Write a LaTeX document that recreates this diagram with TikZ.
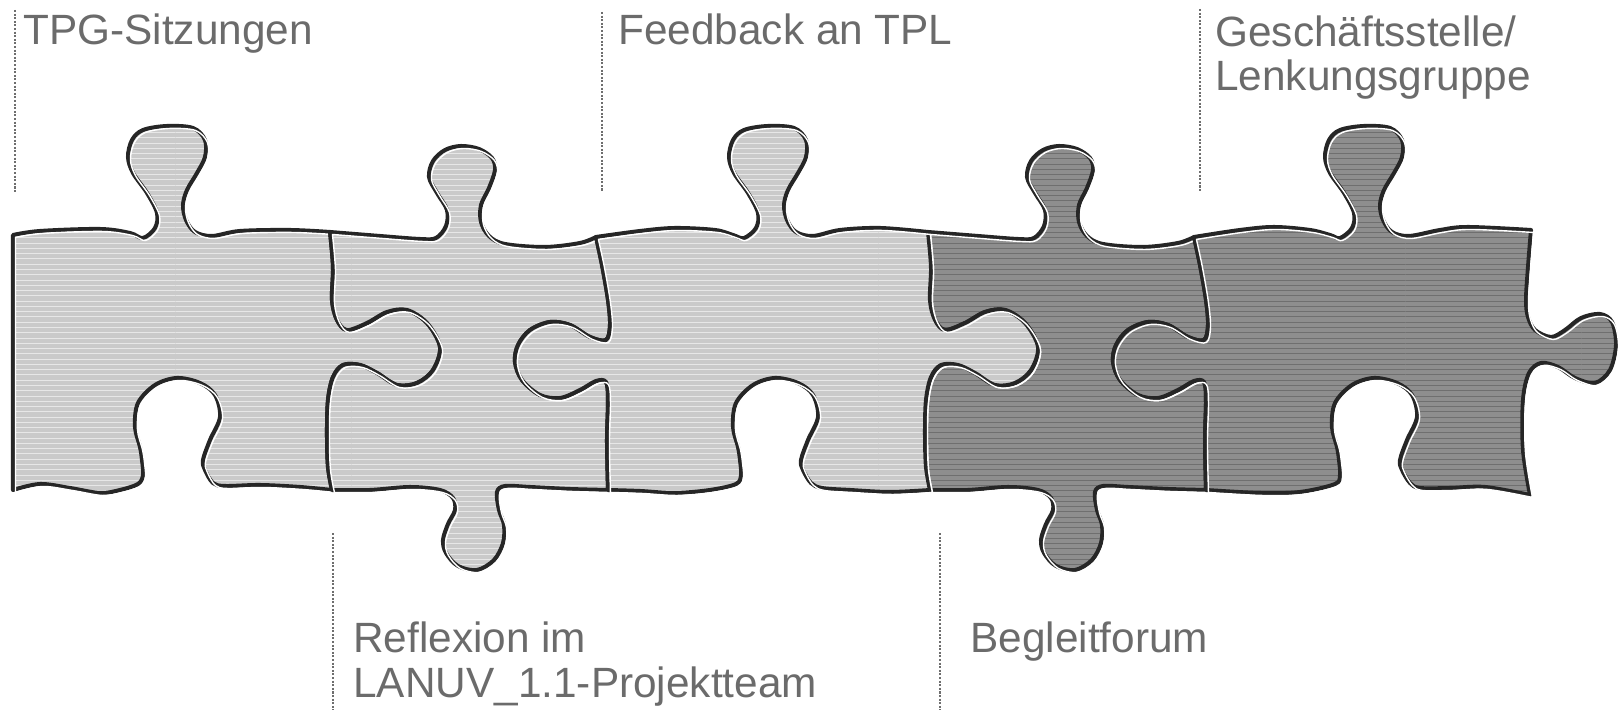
\documentclass[tikz,border=0pt]{standalone}
\usepackage{fontspec}
\setmainfont{Liberation Sans}
\usetikzlibrary{patterns}
\definecolor{label_gray}{HTML}{6B6B6B}
\definecolor{lead_gray}{HTML}{6E6E6E}
\definecolor{metal_light}{HTML}{CACACA}
\definecolor{metal_dark}{HTML}{8E8E8E}
\colorlet{labelgray}{label_gray}
\colorlet{leadgray}{lead_gray}
\colorlet{metallight}{metal_light}
\colorlet{metaldark}{metal_dark}
\tikzset{
  rim/.style={smooth,tension=.55},
  piece/.style 2 args={draw=black!85,line width=2.3pt,line join=round,
    preaction={fill=#1},
    preaction={pattern=horizontal lines,pattern color=#2},
    postaction={draw=white,line width=.8pt,transform canvas={shift={(1.4pt,-1.4pt)}}}},
  lightpiece/.style={piece={metallight}{white!55!metallight}},
  darkpiece/.style={piece={metaldark}{black!22!metaldark}},
  caption/.style={text=labelgray,font=\fontsize{24.1pt}{25.6pt}\selectfont,inner sep=0pt,anchor=base west,align=left},
  leader/.style={draw=leadgray,line width=1.15pt,dash pattern=on 1.15pt off 0.9pt},
}

\begin{document}
\begin{tikzpicture}[x=0.02cm,y=-0.02cm]
  \useasboundingbox (0,0) rectangle (1618,713);

  % first piece
  \draw[lightpiece]
    plot[rim] coordinates {(13,235) (40,231) (100,229) (130,233) (143,238) (155,228) (157,213) (147,193) (133,173) (128,157) (132,140) (143,130) (167,126) (193,128) (205,140) (205,157) (197,173) (187,190) (183,205) (186,220) (195,232) (212,236) (240,231) (290,230) (330,232)}
    -- plot[rim] coordinates {(330,232) (333,267) (332,300) (337,320) (347,330) (367,323) (387,312) (407,310) (427,323) (440,347) (433,370) (417,383) (397,385) (377,373) (360,365) (343,365) (333,377) (328,400) (327,433) (328,467) (332,490)}
    -- plot[rim] coordinates {(332,490) (300,487) (260,485) (225,486) (213,483) (205,470) (203,460) (210,440) (220,417) (215,395) (200,383) (177,378) (155,385) (138,403) (135,427) (140,447) (142,460) (143,475) (138,484) (120,490) (100,493) (70,488) (40,484) (13,490)}
    -- cycle;

  % second and fourth piece
  \foreach \dx/\kind in {0/lightpiece,598/darkpiece}{
    \draw[\kind,shift={(\dx,0)}]
      plot[rim] coordinates {(330,232) (380,236) (420,239) (436,238) (446,226) (447,210) (437,193) (429,177) (433,161) (445,150) (461,146) (479,149) (492,158) (495,170) (489,188) (481,205) (481,222) (489,236) (505,244) (545,247) (580,243) (596,237)}
      -- plot[rim] coordinates {(596,237) (602,265) (608,300) (610,325) (606,340) (590,337) (570,325) (550,322) (530,330) (518,345) (515,362) (522,380) (540,395) (560,398) (580,390) (596,381) (606,382) (608,400) (607,440) (608,490)}
      -- plot[rim] coordinates {(608,490) (570,489) (530,487) (505,486) (497,492) (499,510) (504,525) (503,543) (494,560) (477,570) (458,566) (446,553) (443,540) (448,524) (455,510) (453,498) (440,490) (410,487) (370,490) (332,490)}
      -- plot[rim] coordinates {(332,490) (328,467) (327,433) (328,400) (333,377) (343,365) (360,365) (377,373) (397,385) (417,383) (433,370) (440,347) (427,323) (407,310) (387,312) (367,323) (347,330) (337,320) (332,300) (333,267) (330,232)}
      -- cycle;
  }

  % third piece
  \draw[lightpiece]
    plot[rim] coordinates {(596,237) (640,231) (675,228) (715,230) (733,235) (744,238) (756,228) (758,213) (748,193) (734,173) (729,157) (733,140) (744,130) (768,126) (794,128) (806,140) (806,157) (798,173) (788,190) (784,205) (787,220) (796,232) (813,236) (840,230) (880,228) (928,232)}
    -- plot[rim] coordinates {(928,232) (931,267) (930,300) (935,320) (945,330) (965,323) (985,312) (1005,310) (1025,323) (1038,347) (1031,370) (1015,383) (995,385) (975,373) (958,365) (941,365) (931,377) (926,400) (925,433) (926,467) (930,490)}
    -- plot[rim] coordinates {(930,490) (890,492) (850,490) (822,488) (811,483) (803,470) (801,460) (808,440) (818,417) (813,395) (798,383) (775,378) (753,385) (736,403) (733,427) (738,447) (740,460) (741,475) (736,484) (710,490) (675,493) (640,491) (608,490)}
    -- plot[rim] coordinates {(608,490) (607,440) (608,400) (606,382) (596,381) (580,390) (560,398) (540,395) (522,380) (515,362) (518,345) (530,330) (550,322) (570,325) (590,337) (606,340) (610,325) (608,300) (602,265) (596,237)}
    -- cycle;

  % fifth piece
  \draw[darkpiece]
    plot[rim] coordinates {(1194,237) (1240,230) (1274,227) (1310,230) (1330,235) (1340,238) (1352,228) (1354,213) (1344,193) (1330,173) (1325,157) (1329,140) (1340,130) (1364,126) (1390,128) (1402,140) (1402,157) (1394,173) (1384,190) (1380,205) (1383,220) (1392,232) (1409,236) (1440,230) (1468,227) (1531,230)}
    -- plot[rim] coordinates {(1531,230) (1528,267) (1526,300) (1528,317) (1535,330) (1551,337) (1565,330) (1581,318) (1600,314) (1612,322) (1616,345) (1610,370) (1595,383) (1575,378) (1558,367) (1541,363) (1529,373) (1523,400) (1523,450) (1530,495)}
    -- plot[rim] coordinates {(1530,495) (1485,487) (1450,488) (1420,488) (1410,483) (1402,470) (1400,460) (1407,440) (1417,417) (1412,395) (1397,383) (1374,378) (1352,385) (1335,403) (1332,427) (1337,447) (1339,460) (1340,475) (1335,484) (1300,492) (1260,493) (1206,490)}
    -- plot[rim] coordinates {(1206,490) (1205,440) (1206,400) (1204,382) (1194,381) (1178,390) (1158,398) (1138,395) (1120,380) (1113,362) (1116,345) (1128,330) (1148,322) (1168,325) (1188,337) (1204,340) (1208,325) (1206,300) (1200,265) (1194,237)}
    -- cycle;

  \node[caption] (tpg) at (23,45) {TPG-Sitzungen};
  \node[caption] (feedback) at (618,45) {Feedback an TPL};
  \node[caption] (lenkung) at (1215,91) {Geschäftsstelle/\\Lenkungsgruppe};
  \node[caption] (reflexion) at (353,697) {Reflexion im\\LANUV\_1.1-Projektteam};
  \node[caption] (forum) at (970,652) {Begleitforum};

  \foreach \n/\x/\ya/\yb in {tpg/15/10/192,feedback/602/12/192,lenkung/1200/9/192,reflexion/333/533/710,forum/940/533/710}{
    \coordinate (\n-top) at (\x,\ya);
    \coordinate (\n-bot) at (\x,\yb);
    \draw[leader] (\n-top) -- (\n-bot);
  }
\end{tikzpicture}
\end{document}
